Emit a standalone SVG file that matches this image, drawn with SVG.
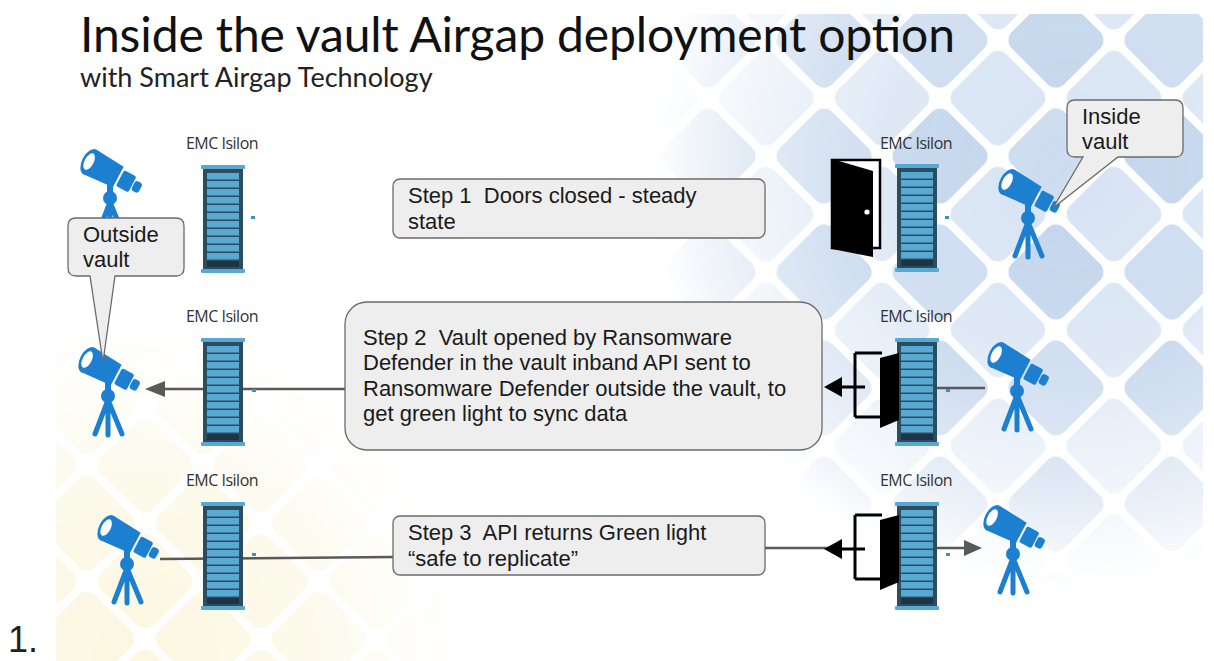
<svg xmlns="http://www.w3.org/2000/svg" xmlns:xlink="http://www.w3.org/1999/xlink" width="1214" height="661" viewBox="0 0 1214 661">
  <style>
    .title { font-family: Lato, "Open Sans", sans-serif; fill: #111; }
    .sub { font-family: Lato, "Open Sans", sans-serif; fill: #222; }
    .lbl { font-family: "Open Sans", Lato, sans-serif; font-size: 16px; fill: #333; text-anchor: middle; letter-spacing: -0.5px; }
    .box { fill: #eeeeee; stroke: #6b6b6b; stroke-width: 1.3; }
    .txt { font-family: "Liberation Sans", Arial, sans-serif; font-size: 22px; fill: #1a1a1a; white-space: pre; }
    .wire { stroke: #595959; stroke-width: 2.6; fill: none; }
    .blk { stroke: #000; stroke-width: 3; fill: none; }
    .dot { fill: #3f90c4; }
  </style>
  <defs>
    <clipPath id="slide"><rect x="56" y="14" width="1147" height="647"/></clipPath>
    <pattern id="tilesBlue" patternUnits="userSpaceOnUse" width="82" height="82" patternTransform="translate(940 330) rotate(45)">
      <rect x="4" y="4" width="74" height="74" rx="12" fill="#d6e3f3"/>
    </pattern>
    <pattern id="tilesBlueDark" patternUnits="userSpaceOnUse" width="164" height="164" patternTransform="translate(940 330) rotate(45)">
      <rect x="4" y="4" width="74" height="74" rx="12" fill="#c4d6ec"/>
      <rect x="86" y="86" width="74" height="74" rx="12" fill="#cddcef"/>
    </pattern>
    <pattern id="tilesYellow" patternUnits="userSpaceOnUse" width="82" height="82" patternTransform="translate(145 523) rotate(45)">
      <rect x="4" y="4" width="74" height="74" rx="12" fill="#fbf7e0"/>
    </pattern>
    <radialGradient id="gBlue" gradientUnits="userSpaceOnUse" cx="1070" cy="170" r="420">
      <stop offset="0" stop-color="#fff"/>
      <stop offset="0.45" stop-color="#c8c8c8"/>
      <stop offset="1" stop-color="#000"/>
    </radialGradient>
    <radialGradient id="gYellow" gradientUnits="userSpaceOnUse" cx="130" cy="660" r="330">
      <stop offset="0" stop-color="#fff"/>
      <stop offset="0.5" stop-color="#aaa"/>
      <stop offset="1" stop-color="#000"/>
    </radialGradient>
    <mask id="blueFade"><rect x="0" y="0" width="1214" height="661" fill="url(#gBlue)"/></mask>
    <mask id="yellowFade"><rect x="0" y="0" width="1214" height="661" fill="url(#gYellow)"/></mask>

    <!-- storage rack: origin at top-left of the body -->
    <g id="rack">
      <rect x="0" y="3" width="40" height="101" fill="#2b4d60"/>
      <rect x="4" y="8" width="32" height="6.5" fill="#5aa9d2"/>
      <rect x="4" y="16" width="32" height="6.5" fill="#5aa9d2"/>
      <rect x="4" y="24" width="32" height="6.5" fill="#5aa9d2"/>
      <rect x="4" y="32" width="32" height="6.5" fill="#5aa9d2"/>
      <rect x="4" y="40" width="32" height="6.5" fill="#5aa9d2"/>
      <rect x="4" y="48" width="32" height="6.5" fill="#5aa9d2"/>
      <rect x="4" y="56" width="32" height="6.5" fill="#5aa9d2"/>
      <rect x="4" y="64" width="32" height="6.5" fill="#5aa9d2"/>
      <rect x="4" y="72" width="32" height="6.5" fill="#5aa9d2"/>
      <rect x="4" y="80" width="32" height="6.5" fill="#5aa9d2"/>
      <rect x="4" y="88" width="32" height="6.5" fill="#5aa9d2"/>
      <rect x="4" y="96" width="32" height="6" fill="#1c3443"/>
      <rect x="-2" y="0" width="44" height="4" rx="1" fill="#57a9d4"/>
      <rect x="-2" y="104" width="44" height="4" rx="1" fill="#57a9d4"/>
    </g>

    <!-- telescope: origin at the centre of the objective lens -->
    <g id="scope" fill="#1d7fd0">
      <rect x="17" y="20" width="6" height="12"/>
      <circle cx="20" cy="36" r="7"/>
      <path d="M20,40 L7,74 M20,40 L20,75 M20,40 L34,74" stroke="#1d7fd0" stroke-width="5" stroke-linecap="round" fill="none"/>
      <g transform="rotate(28)">
        <path d="M0,-14 L32,-11.5 L32,11.5 L0,14 Z"/>
        <rect x="34" y="-9" width="14" height="18" rx="2"/>
        <rect x="49" y="-5.5" width="8" height="11" rx="3"/>
        <ellipse cx="0" cy="0" rx="8" ry="14"/>
        <ellipse cx="-1" cy="0" rx="4.5" ry="9" fill="#fff"/>
      </g>
    </g>

    <!-- gate opened outward, with a left-pointing arrow -->
    <g id="gate">
      <path d="M0,0 H27 M0,0 V64 M0,64 H27" class="blk"/>
      <path d="M25,5 L44,0 L44,67 L25,75 Z" fill="#000"/>
      <path d="M-15,34 H10" class="blk"/>
      <path d="M-31,34 L-13,24 L-13,44 Z" fill="#000"/>
    </g>
  </defs>

  <!-- page and slide background -->
  <rect x="0" y="0" width="1214" height="661" fill="#fff"/>
  <g id="background" clip-path="url(#slide)">
    <rect x="56" y="14" width="1147" height="647" fill="url(#tilesBlue)" mask="url(#blueFade)"/>
    <rect x="56" y="14" width="1147" height="647" fill="url(#tilesBlueDark)" mask="url(#blueFade)"/>
    <rect x="56" y="14" width="1147" height="647" fill="url(#tilesYellow)" mask="url(#yellowFade)"/>
  </g>

  <text x="8" y="652" font-family="Liberation Sans, Arial, sans-serif" font-size="36" fill="#222">1.</text>

  <g id="heading">
    <text class="title" x="80" y="52" font-size="48" textLength="875" lengthAdjust="spacing">Inside the vault Airgap deployment option</text>
    <text class="sub" x="80" y="87" font-size="27">with Smart Airgap Technology</text>
  </g>

  <!-- connectors -->
  <g id="connectors">
    <path d="M345,389 H160" class="wire"/>
    <path d="M145,389 L165,381 L165,397 Z" fill="#595959"/>
    <path d="M160,559 L393,557" class="wire"/>
    <path d="M937,388 H985" class="wire"/>
    <path d="M765,548 H830" class="wire"/>
    <path d="M935,548 H968" class="wire"/>
    <path d="M982,548 L964,540 L964,556 Z" fill="#595959"/>
  </g>

  <!-- outside the vault -->
  <g id="scope-out-1"><use xlink:href="#scope" x="90" y="162"/></g>
  <g id="scope-out-2"><use xlink:href="#scope" x="88" y="360"/></g>
  <g id="scope-out-3"><use xlink:href="#scope" x="107" y="528"/></g>

  <g id="isilon-out-1">
    <text class="lbl" x="222" y="149">EMC Isilon</text>
    <use xlink:href="#rack" x="203" y="165"/>
    <rect class="dot" x="251" y="216" width="4" height="3"/>
  </g>
  <g id="isilon-out-2">
    <text class="lbl" x="222" y="322">EMC Isilon</text>
    <use xlink:href="#rack" x="203" y="338"/>
    <rect class="dot" x="252" y="389" width="4" height="3"/>
  </g>
  <g id="isilon-out-3">
    <text class="lbl" x="222" y="486">EMC Isilon</text>
    <use xlink:href="#rack" x="203" y="502"/>
    <rect class="dot" x="252" y="553" width="4" height="3"/>
  </g>

  <!-- inside the vault -->
  <g id="isilon-in-1">
    <text class="lbl" x="916" y="149">EMC Isilon</text>
    <use xlink:href="#rack" x="897" y="164"/>
    <rect class="dot" x="945" y="216" width="4" height="3"/>
  </g>
  <g id="isilon-in-2">
    <text class="lbl" x="916" y="322">EMC Isilon</text>
    <use xlink:href="#rack" x="897" y="338"/>
    <rect class="dot" x="946" y="389" width="4" height="3"/>
  </g>
  <g id="isilon-in-3">
    <text class="lbl" x="916" y="486">EMC Isilon</text>
    <use xlink:href="#rack" x="897" y="502"/>
    <rect class="dot" x="946" y="553" width="4" height="3"/>
  </g>

  <g id="door-closed">
    <rect x="832" y="160" width="48" height="88" fill="#fff" stroke="#000" stroke-width="2.5"/>
    <path d="M832,159 L873,171 L873,257 L832,249 Z" fill="#000"/>
    <circle cx="867" cy="212" r="2.6" fill="#fff"/>
  </g>
  <g id="gate-open-2"><use xlink:href="#gate" x="855" y="353"/></g>
  <g id="gate-open-3"><use xlink:href="#gate" x="855" y="515"/></g>

  <g id="scope-in-1"><use xlink:href="#scope" x="1008" y="182"/></g>
  <g id="scope-in-2"><use xlink:href="#scope" x="997" y="355"/></g>
  <g id="scope-in-3"><use xlink:href="#scope" x="993" y="518"/></g>

  <!-- step notes -->
  <g id="step1">
    <rect class="box" x="393" y="179" width="372" height="59" rx="7"/>
    <text class="txt" x="408" y="203" xml:space="preserve">Step 1  Doors closed - steady</text>
    <text class="txt" x="408" y="229">state</text>
  </g>
  <g id="step2">
    <rect class="box" x="345" y="302" width="477" height="148" rx="22"/>
    <text class="txt" x="363" y="345" xml:space="preserve">Step 2  Vault opened by Ransomware</text>
    <text class="txt" x="363" y="370">Defender in the vault inband API sent to</text>
    <text class="txt" x="363" y="396">Ransomware Defender outside the vault, to</text>
    <text class="txt" x="363" y="421">get green light to sync data</text>
  </g>
  <g id="step3">
    <rect class="box" x="393" y="516" width="372" height="59" rx="7"/>
    <text class="txt" x="408" y="540" xml:space="preserve">Step 3  API returns Green light</text>
    <text class="txt" x="408" y="566">“safe to replicate”</text>
  </g>

  <!-- callouts -->
  <g id="callout-outside">
    <path class="box" d="M76,218 H176 Q184,218 184,226 V268 Q184,276 176,276 H115 L103,362 L90,276 H76 Q68,276 68,268 V226 Q68,218 76,218 Z"/>
    <text class="txt" x="83" y="242">Outside</text>
    <text class="txt" x="83" y="267">vault</text>
  </g>
  <g id="callout-inside">
    <path class="box" d="M1075,100 H1175 Q1183,100 1183,108 V149 Q1183,157 1175,157 H1118 L1053,208 L1083,157 H1075 Q1067,157 1067,149 V108 Q1067,100 1075,100 Z"/>
    <text class="txt" x="1082" y="124">Inside</text>
    <text class="txt" x="1082" y="149">vault</text>
  </g>
</svg>
